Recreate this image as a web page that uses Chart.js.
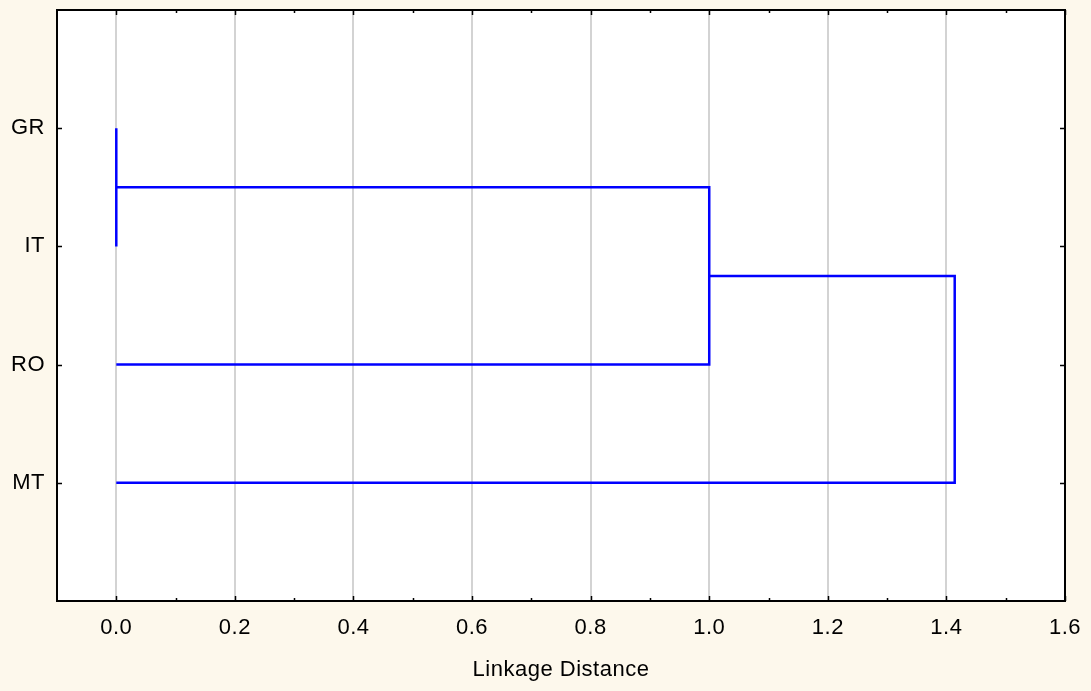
<!DOCTYPE html>
<html>
<head>
<meta charset="utf-8">
<script src="https://cdn.jsdelivr.net/npm/chart.js@4.4.1/dist/chart.umd.min.js"></script>
<style>
  body { margin: 0; background: #fdf8ec; }
  #wrap { width: 1091px; height: 691px; }
</style>
</head>
<body>
<div id="wrap"><canvas id="dendro" width="1091" height="691"></canvas></div>
<script>
// leaves, top to bottom
const leaves = ["GR", "IT", "RO", "MT"];
const leafPos = [0, 1, 2, 3];
// merges: [child a, child b, linkage distance]; ids >= leaves.length are earlier merges
const merges = [
  [0, 1, 0.0],
  [4, 2, 1.0],
  [5, 3, 1.414],
];
const xTicks = [0.0, 0.2, 0.4, 0.6, 0.8, 1.0, 1.2, 1.4, 1.6];

document.addEventListener("DOMContentLoaded", function () {
  // --- Build dendrogram links ---
  const nodes = leaves.map((_, i) => ({ x: 0, y: leafPos[i] }));
  const datasets = merges.map(([a, b, h]) => {
    const na = nodes[a];
    const nb = nodes[b];
    nodes.push({ x: h, y: (na.y + nb.y) / 2 });
    return {
      data: [
        { x: na.x, y: na.y },
        { x: h, y: na.y },
        { x: h, y: nb.y },
        { x: nb.x, y: nb.y },
      ],
      showLine: true,
      borderColor: "#0000ff",
      borderWidth: 2.5,
      pointRadius: 0,
      tension: 0,
    };
  });

  // --- Frame, background and inward ticks ---
  const framePlugin = {
    id: "frame",
    beforeDraw(chart) {
      const { ctx, chartArea: a } = chart;
      ctx.save();
      ctx.fillStyle = "#fdf8ec";
      ctx.fillRect(0, 0, chart.width, chart.height);
      ctx.fillStyle = "#ffffff";
      ctx.fillRect(a.left, a.top, a.right - a.left, a.bottom - a.top);
      ctx.restore();
      ctx.letterSpacing = "0.5px";
    },
    afterDraw(chart) {
      const { ctx, chartArea: a, scales } = chart;
      ctx.save();
      ctx.strokeStyle = "#000000";
      ctx.lineWidth = 1.5;
      ctx.beginPath();
      for (let i = 0; i <= 16; i++) {
        const px = Math.round(scales.x.getPixelForValue(i / 10)) + 0.5;
        const len = i % 2 === 0 ? 5 : 3;
        ctx.moveTo(px, a.bottom);
        ctx.lineTo(px, a.bottom - len);
        ctx.moveTo(px, a.top);
        ctx.lineTo(px, a.top + len);
      }
      leafPos.forEach((v) => {
        const py = Math.round(scales.y.getPixelForValue(v)) + 0.5;
        ctx.moveTo(a.left, py);
        ctx.lineTo(a.left + 5, py);
        ctx.moveTo(a.right, py);
        ctx.lineTo(a.right - 5, py);
      });
      ctx.stroke();
      ctx.lineWidth = 2;
      ctx.strokeRect(a.left, a.top, a.right - a.left, a.bottom - a.top);
      ctx.restore();
    },
  };

  const tickFont = { family: "'Liberation Sans', Arial, sans-serif", size: 22 };

  new Chart(document.getElementById("dendro"), {
    type: "scatter",
    data: { datasets: datasets },
    plugins: [framePlugin],
    options: {
      responsive: false,
      animation: false,
      layout: { padding: { top: 10, right: 26, left: 0, bottom: 0 } },
      plugins: {
        legend: { display: false },
        tooltip: { enabled: false },
      },
      scales: {
        x: {
          type: "linear",
          min: -0.1,
          max: 1.6,
          afterBuildTicks: (scale) => {
            scale.ticks = xTicks.map((v) => ({ value: v }));
          },
          afterFit: (scale) => {
            scale.height = 90;
            scale.paddingLeft = 0;
            scale.paddingRight = 0;
          },
          grid: { color: "#d3d3d3", lineWidth: 2, drawTicks: false },
          border: { display: false },
          ticks: {
            color: "#000000",
            font: tickFont,
            padding: 14,
            maxRotation: 0,
            callback: (v) => Number(v).toFixed(1),
          },
          title: {
            display: true,
            text: "Linkage Distance",
            color: "#000000",
            font: tickFont,
            padding: { top: 0, bottom: 8 },
          },
        },
        y: {
          type: "linear",
          min: -1,
          max: 4,
          reverse: true,
          afterBuildTicks: (scale) => {
            scale.ticks = leafPos.map((v) => ({ value: v }));
          },
          afterFit: (scale) => {
            scale.width = 57;
            scale.paddingTop = 0;
            scale.paddingBottom = 0;
          },
          grid: { display: false, drawTicks: false },
          border: { display: false },
          ticks: {
            color: "#000000",
            font: tickFont,
            padding: 12,
            callback: (v) => leaves[leafPos.indexOf(v)],
          },
        },
      },
    },
  });
});
</script>
</body>
</html>
